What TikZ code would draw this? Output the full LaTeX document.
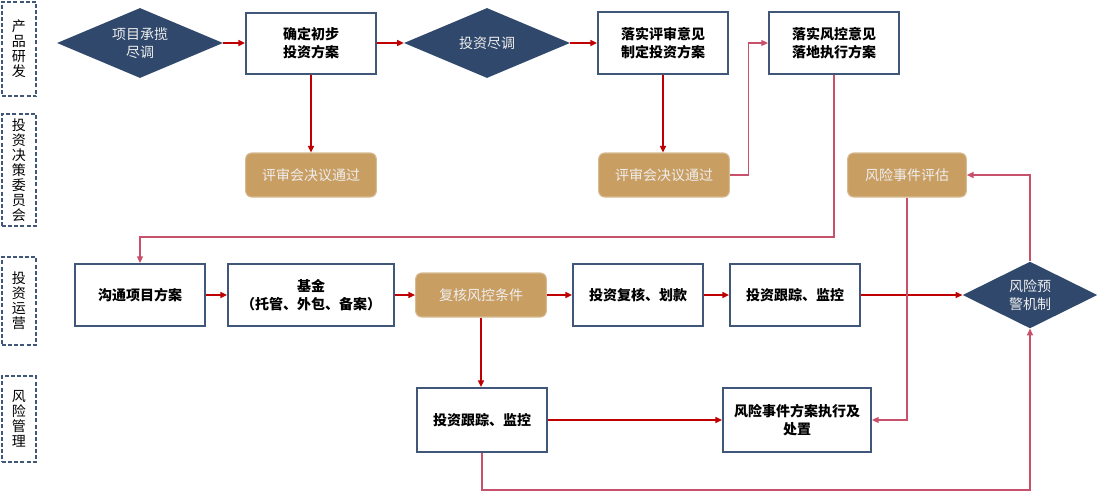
\documentclass[tikz,border=0pt]{standalone}
\usepackage{fontspec}
\setmainfont{Noto Sans CJK SC}
\usetikzlibrary{positioning,shapes.geometric,arrows.meta}
\definecolor{navy}{HTML}{30486B}
\definecolor{edge}{HTML}{41577A}
\definecolor{flowred}{HTML}{C00000}
\definecolor{backpink}{HTML}{C9506B}
\definecolor{tan}{HTML}{C99E63}
\definecolor{tanedge}{HTML}{D6BB92}
\definecolor{pale}{HTML}{EEEEEE}
\tikzset{
  lane/.style={draw=edge, dash pattern=on 3pt off 1.6pt, line width=1.4pt,
    minimum width=25.5pt, align=center, inner sep=0pt,
    font=\fontsize{10.5}{11.2}\selectfont},
  plan/.style={draw=edge, line width=1.5pt, fill=white, align=center,
    minimum width=97.5pt, minimum height=46.5pt, inner sep=1pt,
    font=\fontsize{10.5}{13.5}\selectfont\bfseries},
  gate/.style={diamond, fill=navy, text=pale, align=center, inner sep=0pt,
    aspect=2, font=\fontsize{10.5}{13.5}\selectfont},
  verdict/.style={rounded corners=4.5pt, draw=tanedge, line width=0.8pt,
    fill=tan, text=pale, minimum height=33pt, minimum width=98pt,
    font=\fontsize{10.5}{13.5}\selectfont},
  flow/.style={draw=flowred, line width=1.1pt,
    -{Triangle[length=5pt,width=4.5pt]}},
  back/.style={draw=backpink, line width=0.9pt,
    -{Triangle[length=5pt,width=4.5pt]}}
}

\begin{document}
\begin{tikzpicture}[x=0.75pt,y=-0.75pt]
  \useasboundingbox (0,0) rectangle (1100,493);

  % swim lanes
  \node[lane, minimum height=71pt] (laneA) at (19,49) {产\\品\\研\\发};
  \node[lane, minimum height=84pt] (laneB) at (19,170) {投\\资\\决\\策\\委\\员\\会};
  \node[lane, minimum height=66pt] (laneC) at (19,301) {投\\资\\运\\营};
  \node[lane, minimum height=64.5pt] (laneD) at (19,419) {风\\险\\管\\理};

  % product research
  \node[gate, minimum width=124.5pt, minimum height=52.5pt] (dueA) at (140,43) {项目承揽\\尽调};
  \node[plan, minimum height=45.75pt] (draftplan) at (311,43) {确定初步\\投资方案};
  \node[gate, minimum width=124.5pt, minimum height=52.5pt] (dueB) at (487,43) {投资尽调};
  \node[plan] (reviewplan) at (663,43) {落实评审意见\\制定投资方案};
  \node[plan] (riskplan) at (834,43) {落实风控意见\\落地执行方案};

  % committee
  \node[verdict] (passA) at (311,175) {评审会决议通过};
  \node[verdict] (passB) at (664,175) {评审会决议通过};
  \node[verdict, minimum width=89pt] (assess) at (907,175) {风险事件评估};

  % operation
  \node[plan] (talk) at (140,295) {沟通项目方案};
  \node[plan, minimum width=124.5pt] (fund) at (311,295) {基金\\（托管、外包、备案）};
  \node[verdict] (recheck) at (481,295) {复核风控条件};
  \node[plan] (payout) at (638,295) {投资复核、划款};
  \node[plan] (trackA) at (795,295) {投资跟踪、监控};
  \node[gate, minimum width=101pt, minimum height=50pt] (alarm) at (1030,295) {风险预\\警机制};

  % risk management
  \node[plan, minimum height=48pt] (trackB) at (482,420) {投资跟踪、监控};
  \node[plan, minimum width=111pt, minimum height=48pt] (handle) at (797,420) {风险事件方案执行及\\处置};

  \coordinate (turn) at (834,237);
  \coordinate (low) at (482,490);

  % main flow
  \draw[flow] (dueA) -- (draftplan);
  \draw[flow] (draftplan) -- (dueB);
  \draw[flow] (dueB) -- (reviewplan);
  \draw[flow] (draftplan) -- (passA);
  \draw[flow] (reviewplan.south) -- (reviewplan.south |- passB.north);
  \draw[flow] (talk) -- (fund);
  \draw[flow] (fund) -- (recheck);
  \draw[flow] (recheck) -- (payout);
  \draw[flow] (payout) -- (trackA);
  \draw[flow] (trackA) -- (alarm);
  \draw[flow] (recheck.south) -- (recheck.south |- trackB.north);
  \draw[flow] (trackB) -- (handle);

  % feedback
  \draw[back] (passB.east) -- ++(19,0) |- (riskplan.west);
  \draw[back] (riskplan.south) -- (turn) -| (talk.north);
  \draw[back] (assess.south) |- (handle.east);
  \draw[back] (trackB.south) -- (low) -| (alarm.south);
  \draw[back] (alarm.north) |- (assess.east);
\end{tikzpicture}
\end{document}
